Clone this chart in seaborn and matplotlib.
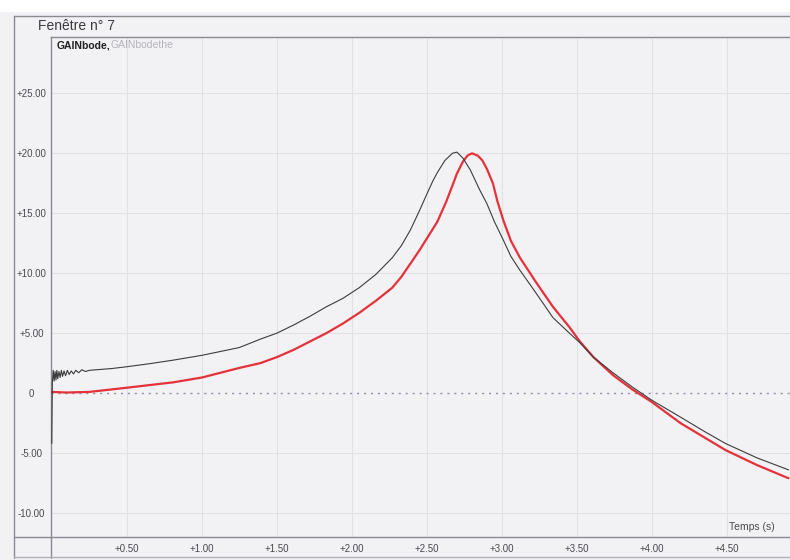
import matplotlib
matplotlib.use("Agg")
import matplotlib.pyplot as plt
from matplotlib.lines import Line2D
from matplotlib.patches import Rectangle
import seaborn as sns
import pandas as pd

# Measured gain (dB) of the circuit
black_x = [0.00, 0.004, 0.010, 0.016, 0.022, 0.028, 0.034, 0.040, 0.048, 0.056,
           0.064, 0.072, 0.082, 0.092, 0.104, 0.116, 0.130, 0.145, 0.160, 0.180,
           0.200, 0.225, 0.25, 0.30, 0.40, 0.50, 0.65, 0.81, 1.00, 1.25,
           1.39, 1.50, 1.61, 1.72, 1.83, 1.94, 2.05, 2.16, 2.27, 2.33,
           2.39, 2.45, 2.50, 2.54, 2.57, 2.62, 2.67, 2.70, 2.74, 2.79, 2.85,
           2.90, 2.95, 3.01, 3.06, 3.12, 3.23, 3.34, 3.45, 3.52, 3.61, 3.74, 3.87,
           4.00, 4.19, 4.35, 4.49, 4.70, 4.91]
black_gain = [-4.2, 0.9, 1.9, 1.0, 1.8, 1.1, 1.9, 1.2, 1.8, 1.3,
              1.9, 1.4, 1.85, 1.45, 1.9, 1.55, 1.85, 1.6, 1.9, 1.7,
              1.95, 1.8, 1.9, 1.95, 2.05, 2.2, 2.45, 2.75, 3.15, 3.8,
              4.5, 5.0, 5.67, 6.4, 7.2, 7.9, 8.8, 9.9, 11.3, 12.3,
              13.6, 15.2, 16.6, 17.7, 18.4, 19.4, 20.0, 20.1, 19.6, 18.6, 17.0,
              15.8, 14.3, 12.75, 11.4, 10.25, 8.3, 6.3, 5.0, 4.2, 3.0, 1.7, 0.5,
              -0.6, -2.0, -3.2, -4.2, -5.4, -6.4]

# Theoretical gain (dB)
red_x = [0.00, 0.10, 0.25, 0.50, 0.81, 1.00, 1.25, 1.39, 1.50, 1.61,
         1.72, 1.83, 1.94, 2.05, 2.16, 2.27, 2.33, 2.39, 2.45, 2.50,
         2.57, 2.63, 2.67, 2.70, 2.74, 2.77, 2.80, 2.84, 2.87, 2.90,
         2.94, 2.97, 3.01, 3.06, 3.12, 3.23, 3.34, 3.45, 3.52, 3.61, 3.74, 3.87,
         4.00, 4.19, 4.35, 4.49, 4.70, 4.91]
red_gain = [0.1, 0.05, 0.1, 0.45, 0.9, 1.3, 2.1, 2.5, 3.0, 3.6,
            4.3, 5.0, 5.8, 6.7, 7.7, 8.8, 9.7, 10.8, 11.9, 12.9,
            14.3, 16.0, 17.3, 18.3, 19.3, 19.8, 20.0, 19.8, 19.4, 18.7,
            17.5, 16.0, 14.4, 12.7, 11.3, 9.2, 7.2, 5.5, 4.3, 3.0, 1.5, 0.3,
            -0.75, -2.5, -3.7, -4.75, -6.0, -7.1]

x_ticks = [0.5, 1.0, 1.5, 2.0, 2.5, 3.0, 3.5, 4.0, 4.5]
x_labels = ["+0.50", "+1.00", "+1.50", "+2.00", "+2.50", "+3.00", "+3.50", "+4.00", "+4.50"]
y_ticks = [-10, -5, 0, 5, 10, 15, 20, 25]
y_labels = ["-10.00", "-5.00", "0", "+5.00", "+10.00", "+15.00", "+20.00", "+25.00"]

sns.set_theme(style="white")
plt.rcParams["font.family"] = ["Liberation Sans", "DejaVu Sans"]

paper = "#f2f2f5"
frame = "#8a8a90"
W, H = 790, 560
fig = plt.figure(figsize=(W / 100, H / 100), dpi=100, facecolor=paper)

ax_l, ax_r, ax_t, ax_b = 51, 790, 37, 537
ax = fig.add_axes([ax_l / W, 1 - ax_b / H, (ax_r - ax_l) / W, (ax_b - ax_t) / H])
ax.set_facecolor(paper)

df_b = pd.DataFrame({"t": black_x, "g": black_gain})
df_r = pd.DataFrame({"t": red_x, "g": red_gain})
sns.lineplot(data=df_r, x="t", y="g", ax=ax, color="#e5323a", linewidth=1.6,
             sort=False, estimator=None, zorder=3)
sns.lineplot(data=df_b, x="t", y="g", ax=ax, color="#3c3c3c", linewidth=0.8,
             sort=False, estimator=None, zorder=4)

ax.set_xlim(-0.005, 4.92)
ax.set_ylim(-12.0, 29.7)
ax.set_xticks(x_ticks)
ax.set_xticklabels(x_labels)
ax.set_yticks(y_ticks)
ax.set_yticklabels(y_labels)
ax.set_xlabel("")
ax.set_ylabel("")
ax.tick_params(axis="both", length=0, labelsize=7, labelcolor="#4a4a50")
ax.tick_params(axis="x", pad=5)
ax.tick_params(axis="y", pad=14)
for lbl in ax.get_yticklabels():
    lbl.set_horizontalalignment("center")

# grid: faint solid lines, dotted zero line
ax.grid(True, color="#e0e0e6", linewidth=0.8)
for gl, v in zip(ax.yaxis.get_gridlines(), y_ticks):
    if v == 0:
        gl.set_color("#8c93a6")
        gl.set_linestyle((0, (1.5, 3.5)))
        gl.set_linewidth(1.0)

ax.spines["right"].set_visible(False)
for s in ("left", "top", "bottom"):
    ax.spines[s].set_color(frame)
    ax.spines[s].set_linewidth(1.0)

# window frame
def fline(x0, y0, x1, y1, color=frame, lw=1.0):
    fig.add_artist(Line2D([x0 / W, x1 / W], [1 - y0 / H, 1 - y1 / H],
                          color=color, linewidth=lw))

fig.add_artist(Rectangle((0, 1 - 12 / H), 1, 12 / H, transform=fig.transFigure,
                         facecolor="white", edgecolor="none"))
fline(14, 16, 790, 16)
fline(14, 16, 14, 558)
fline(14, ax_b, ax_l, ax_b)
fline(ax_l, ax_b, ax_l, 558)
fline(14, 557, 790, 557, color="#b0b0b8")

fig.text(38 / W, 1 - 26 / H, "Fenêtre n° 7", fontsize=10, color="#3a3a40",
         va="center", ha="left")
t1 = fig.text(57 / W, 1 - 45 / H, "GAINbode,", fontsize=7.5, color="#202020",
              fontweight="bold", va="center", ha="left")
ax.annotate("GAINbodethe", xy=(1, 0.5), xycoords=t1, va="center", ha="left",
            fontsize=7.5, color="#b4b4bc")
fig.text(775 / W, 1 - 527 / H, "Temps (s)", fontsize=7.5, color="#4a4a50",
         va="center", ha="right")

fig.savefig("out.png", dpi=100, facecolor=paper)
